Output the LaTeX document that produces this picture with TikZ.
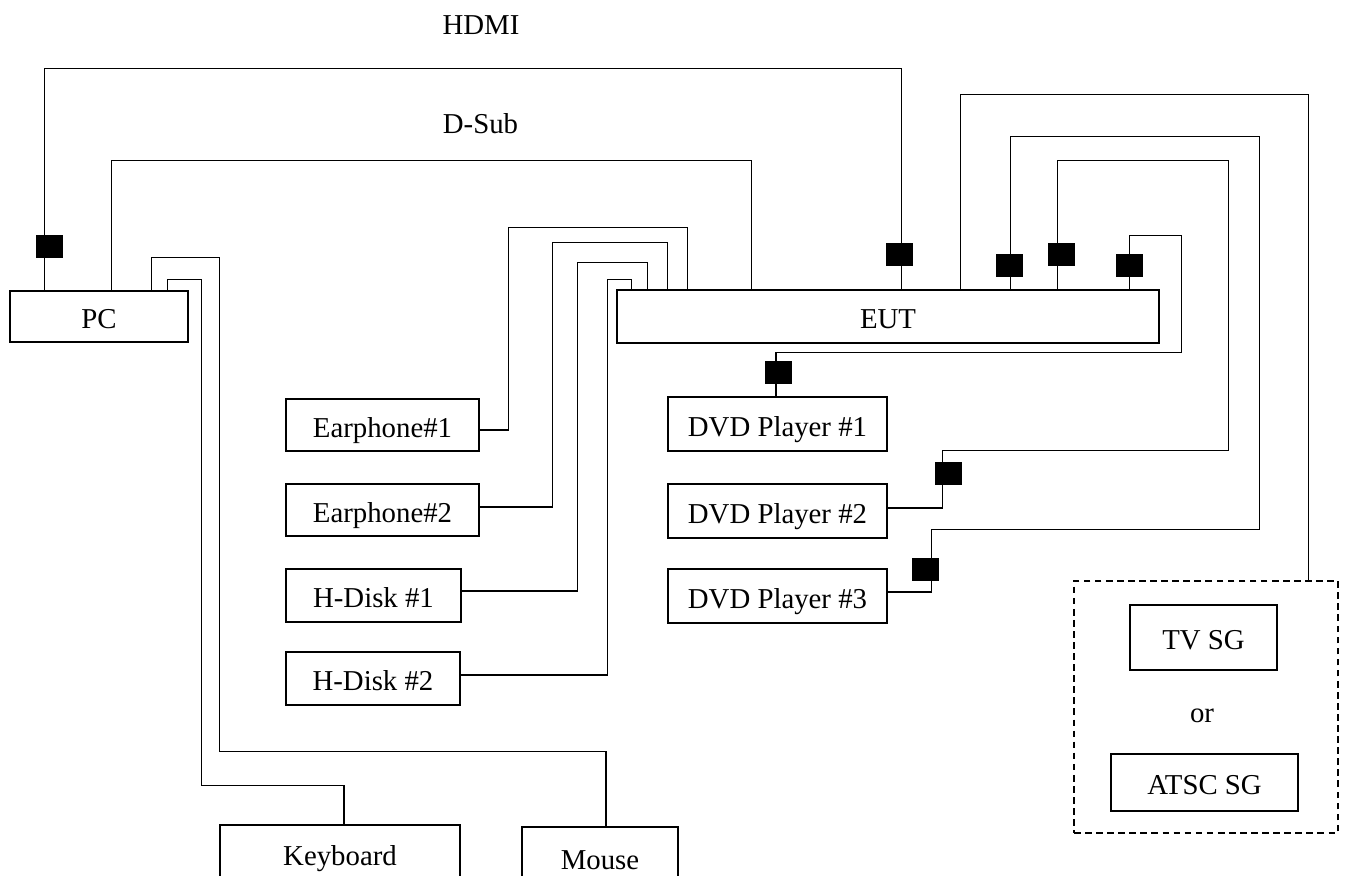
\documentclass[tikz,border=0pt]{standalone}
\usepackage{fontspec}
\setmainfont{Liberation Serif}
\usetikzlibrary{calc}
\begin{document}
\begin{tikzpicture}[x=0.75pt,y=-0.75pt,
  box/.style n args={2}{draw, line width=1.2pt, inner sep=0pt, minimum width=#1*0.75pt, minimum height=#2*0.75pt, text height=18pt, text depth=0pt, font=\fontsize{21.6}{26}\selectfont},
  lbl/.style={inner sep=0pt, anchor=base, font=\fontsize{21.6}{26}\selectfont},
  wire/.style={line width=0.95pt},
  plug/.style={fill=black, draw=none, inner sep=0pt, minimum width=20.25pt, minimum height=17.25pt},
  groupbox/.style={draw, dashed, dash pattern=on 5pt off 3.3pt, line width=1pt, inner sep=0pt, minimum width=198pt, minimum height=189pt}
]
\useasboundingbox (0,0) rectangle (1345,875);
\clip (0,0) rectangle (1345,875);

% boxes
\node[box={178}{51}] (pc) at (99,316.5) {PC};
\node[box={542}{53}] (eut) at (888,316.5) {EUT};
\node[box={193}{52}] (e1) at (382.5,425) {Earphone\#1};
\node[box={193}{52}] (e2) at (382.5,510) {Earphone\#2};
\node[box={175}{53}] (hd1) at (373.5,595.5) {H-Disk \#1};
\node[box={174}{53}] (hd2) at (373,678.5) {H-Disk \#2};
\node[box={219}{54}] (dvd1) at (777.5,424) {DVD Player \#1};
\node[box={219}{54}] (dvd2) at (777.5,511) {DVD Player \#2};
\node[box={219}{54}] (dvd3) at (777.5,596) {DVD Player \#3};
\node[box={240}{56}] (kb) at (340,853) {Keyboard};
\node[box={156}{60}] (mouse) at (600,857) {Mouse};
\node[groupbox] (sg) at (1206,707) {};
\node[box={147}{65}] (tvsg) at (1203.5,637.5) {TV SG};
\node[box={187}{57}] (atsc) at (1204.5,782.5) {ATSC SG};
\node[lbl] (or) at (1202,722) {or};

% labels
\node[lbl] (hdmilbl) at (481,34) {HDMI};
\node[lbl] (dsublbl) at (480.5,133) {D-Sub};

% connectors
\draw[wire] ($(pc.north west)+(35,0)$) -- ++(0,-222) -| ($(eut.north west)+(285,0)$);
\draw[wire] ($(pc.north west)+(102,0)$) -- ++(0,-130) -| ($(eut.north west)+(135,0)$);
\draw[wire] ($(pc.north west)+(142,0)$) -- ++(0,-33) -- ++(68,0) |- ($(mouse.north)+(6,-75)$) -- ($(mouse.north)+(6,0)$);
\draw[wire] ($(pc.north west)+(158,0)$) -- ++(0,-11) -- ++(34,0) |- ($(kb.north)+(4,-39)$) -- ($(kb.north)+(4,0)$);

\draw[wire] ($(eut.north west)+(71,0)$) -- ++(0,-62) -| ($(e1.east)+(29,5)$) -- ($(e1.east)+(0,5)$);
\draw[wire] ($(eut.north west)+(51,0)$) -- ++(0,-47) -| ($(e2.east)+(73,-3)$) -- ($(e2.east)+(0,-3)$);
\draw[wire] ($(eut.north west)+(31,0)$) -- ++(0,-27) -| ($(hd1.east)+(116,-4.5)$) -- ($(hd1.east)+(0,-4.5)$);
\draw[wire] ($(eut.north west)+(15,0)$) -- ++(0,-10) -| ($(hd2.east)+(147,-3.5)$) -- ($(hd2.east)+(0,-3.5)$);

\draw[wire] ($(eut.north west)+(344,0)$) -- ++(0,-195) -| ($(sg.north west)+(235,0)$);
\draw[wire] ($(eut.north west)+(394,0)$) -- ++(0,-153) -- ++(249,0) -- ++(0,393) -- ++(-328,0) |- ($(dvd3.east)+(0,-4)$);
\draw[wire] ($(eut.north west)+(441,0)$) -- ++(0,-129) -- ++(171,0) -- ++(0,290) -- ++(-286,0) |- ($(dvd2.east)+(0,-3)$);
\draw[wire] ($(eut.north west)+(513,0)$) -- ++(0,-54) -- ++(52,0) -- ++(0,117) -| ($(dvd1.north)+(-1.5,0)$);

% connector plugs
\node[plug] (p1) at (49.5,246.5) {};
\node[plug] (p2) at (899.5,254.5) {};
\node[plug] (p3) at (1009.5,265) {};
\node[plug] (p4) at (1061,254.5) {};
\node[plug] (p5) at (1129.5,265) {};
\node[plug] (p6) at (778,372.5) {};
\node[plug] (p7) at (948,473.5) {};
\node[plug] (p8) at (925.5,569.5) {};
\end{tikzpicture}
\end{document}
